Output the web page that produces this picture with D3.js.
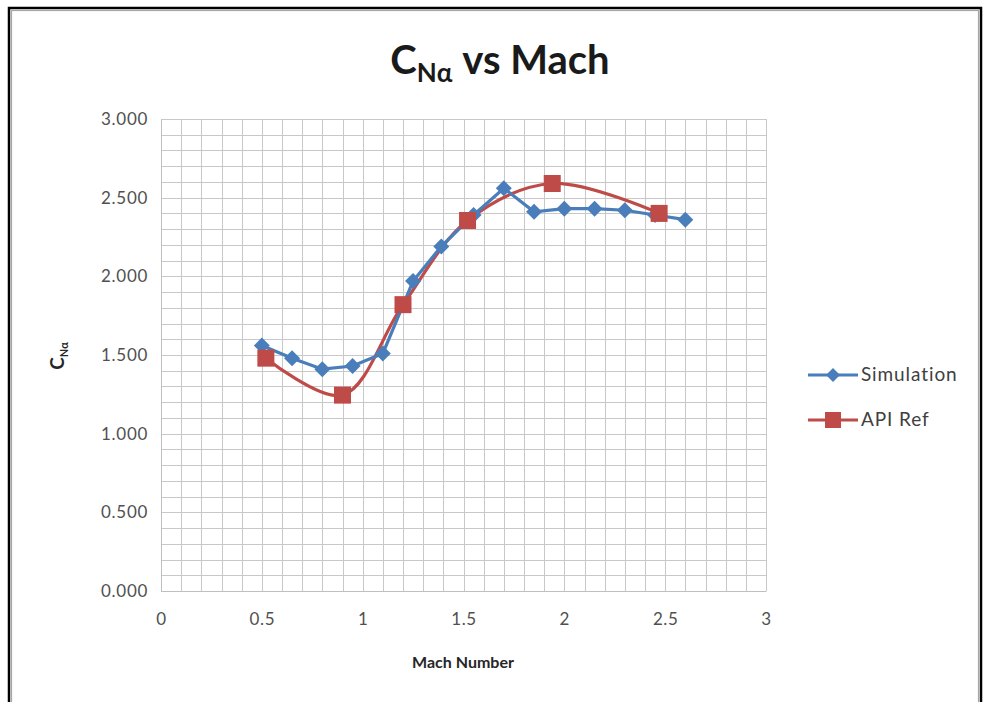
<!DOCTYPE html>
<html><head><meta charset="utf-8">
<script src="https://cdn.jsdelivr.net/npm/d3@7"></script>
<style>body{margin:0;background:#fff}svg{display:block}</style>
</head><body>
<svg id="c" width="984" height="702"></svg>
<script>
// Data
const simMach = [0.5, 0.65, 0.8, 0.95, 1.1, 1.25, 1.39, 1.55, 1.7, 1.85, 2.0, 2.15, 2.3, 2.45, 2.6];
const simCN   = [1.56, 1.48, 1.41, 1.43, 1.51, 1.97, 2.19, 2.39, 2.56, 2.41, 2.43, 2.43, 2.42, 2.39, 2.36];
const apiMach = [0.52, 0.9, 1.2, 1.52, 1.94, 2.47];
const apiCN   = [1.48, 1.245, 1.82, 2.355, 2.59, 2.40];
const xTicks = [0, 0.5, 1, 1.5, 2, 2.5, 3];
const yTicks = [0, 0.5, 1.0, 1.5, 2.0, 2.5, 3.0];
const seriesNames = ["Simulation", "API Ref"];
const colors = ["#4A7EBB", "#BE4B48"];

const svg = d3.select("#c");
const font = "Lato, 'Open Sans', sans-serif";

// outer frame
svg.append("rect").attr("x",9).attr("y",8).attr("width",972).attr("height",710)
  .attr("fill","none").attr("stroke","#000").attr("stroke-width",2.5);
svg.append("rect").attr("x",11.5).attr("y",10.5).attr("width",967).attr("height",700)
  .attr("fill","none").attr("stroke","#a6a6a6").attr("stroke-width",1.2);

const L=161, R=766, T=119, B=591;
const x = d3.scaleLinear().domain([0,3]).range([L,R]);
const y = d3.scaleLinear().domain([0,3]).range([B,T]);

// gridlines (minor every 0.1)
const g = svg.append("g");
const minor = d3.range(0,31).map(i=>i/10);
g.selectAll("line.v").data(minor).join("line")
  .attr("x1",d=>Math.round(x(d))+0.5).attr("x2",d=>Math.round(x(d))+0.5)
  .attr("y1",T).attr("y2",B).attr("stroke","#c8c8c8").attr("stroke-width",1);
g.selectAll("line.h").data(minor).join("line")
  .attr("y1",d=>Math.round(y(d))+0.5).attr("y2",d=>Math.round(y(d))+0.5)
  .attr("x1",L).attr("x2",R).attr("stroke","#c8c8c8").attr("stroke-width",1);

// axes
const xAxis = d3.axisBottom(x).tickValues(xTicks).tickSize(0).tickPadding(22).tickFormat(d=>String(d));
const gx = svg.append("g").attr("transform",`translate(0,${B})`).call(xAxis);
gx.select(".domain").attr("stroke","#bfbfbf");
gx.selectAll("text").attr("font-family",font).attr("font-size",17).attr("letter-spacing",0.6).attr("fill","#505050");

const yAxis = d3.axisLeft(y).tickValues(yTicks).tickSize(0).tickPadding(13).tickFormat(d3.format(".3f"));
const gy = svg.append("g").attr("transform",`translate(${L},0)`).call(yAxis);
gy.select(".domain").attr("stroke","#bfbfbf");
gy.selectAll("text").attr("font-family",font).attr("font-size",17).attr("letter-spacing",0.7).attr("fill","#505050");

// Title
const title = svg.append("text").attr("x",500).attr("y",74).attr("text-anchor","middle")
  .attr("font-family",font).attr("font-weight","bold").attr("font-size",40).attr("fill","#1a1a1a");
title.append("tspan").text("C");
title.append("tspan").attr("font-size",26).attr("dy",8).text("Nα");
title.append("tspan").attr("dy",-8).text(" vs Mach");

// Axis titles
svg.append("text").attr("x",463).attr("y",668).attr("text-anchor","middle")
  .attr("font-family",font).attr("font-weight","bold").attr("font-size",16).attr("fill","#262626").text("Mach Number");
const yt = svg.append("text").attr("transform","translate(64,356) rotate(-90)").attr("text-anchor","middle")
  .attr("font-family",font).attr("font-weight","bold").attr("font-size",19).attr("fill","#262626");
yt.append("tspan").text("C");
yt.append("tspan").attr("font-size",11).attr("dy",4).text("Nα");

// Series
const sim = simMach.map((m,i)=>[m,simCN[i]]);
const api = apiMach.map((m,i)=>[m,apiCN[i]]);

svg.append("path").datum(api).attr("fill","none").attr("stroke",colors[1]).attr("stroke-width",3.2)
  .attr("d", d3.line().x(d=>x(d[0])).y(d=>y(d[1])).curve(d3.curveCatmullRom.alpha(0.5)));
svg.append("path").datum(sim).attr("fill","none").attr("stroke",colors[0]).attr("stroke-width",3.2)
  .attr("d", d3.line().x(d=>x(d[0])).y(d=>y(d[1])));

const diamond = (s)=>`M0,${-s}L${s},0L0,${s}L${-s},0Z`;
svg.append("g").selectAll("path").data(sim).join("path")
  .attr("transform",d=>`translate(${x(d[0])},${y(d[1])})`).attr("d",diamond(8)).attr("fill",colors[0]);
svg.append("g").selectAll("rect").data(api).join("rect")
  .attr("x",d=>x(d[0])-8.5).attr("y",d=>y(d[1])-8.5).attr("width",17).attr("height",17).attr("fill",colors[1]);

// Legend
const leg = svg.append("g");
seriesNames.forEach((n,i)=>{
  const ly = 375 + i*45;
  leg.append("line").attr("x1",808).attr("x2",858).attr("y1",ly).attr("y2",ly).attr("stroke",colors[i]).attr("stroke-width",3);
  if(i===0) leg.append("path").attr("transform",`translate(833,${ly})`).attr("d",diamond(7)).attr("fill",colors[i]);
  else leg.append("rect").attr("x",825).attr("y",ly-8).attr("width",16).attr("height",16).attr("fill",colors[i]);
  leg.append("text").attr("x",861).attr("y",ly+6).attr("font-family",font).attr("font-size",19).attr("letter-spacing",0.9).attr("fill","#404040").text(n);
});
</script>
</body></html>
